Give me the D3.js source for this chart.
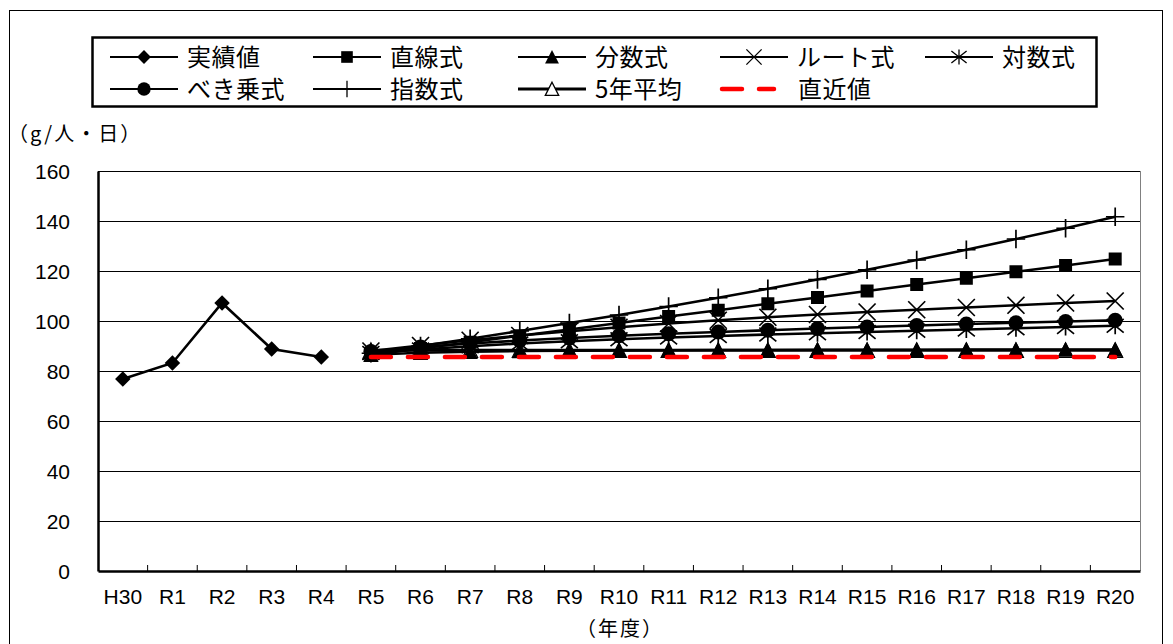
<!DOCTYPE html>
<html>
<head>
<meta charset="utf-8">
<script src="https://cdn.jsdelivr.net/npm/d3@7"></script>
<style>
  html, body { margin: 0; padding: 0; background: #fff; }
  svg { display: block; }
  text { font-family: "Liberation Sans", Arial, sans-serif; fill: #000; }
  .jp { font-family: "Noto Sans CJK JP", "Noto Sans", sans-serif; }
</style>
</head>
<body>
<svg id="chart" width="1173" height="644"></svg>
<script>
// Fiscal years on the category axis
const categories = ["H30","R1","R2","R3","R4","R5","R6","R7","R8","R9","R10",
                    "R11","R12","R13","R14","R15","R16","R17","R18","R19","R20"];
const actualYears   = ["H30","R1","R2","R3","R4"];
const forecastYears = ["R5","R6","R7","R8","R9","R10","R11","R12","R13","R14",
                       "R15","R16","R17","R18","R19","R20"];

// Recorded values (g/person/day)
const actualValues = [76.8, 83.2, 107.2, 88.8, 85.6];

// Projections by trend model
const linearValues   = [86.4, 89.0, 91.5, 94.1, 96.6, 99.2, 101.8, 104.3, 106.9, 109.4, 112.0, 114.6, 117.1, 119.7, 122.2, 124.8];
const fractionValues = [86.5, 87.3, 87.7, 88.0, 88.1, 88.2, 88.3, 88.4, 88.4, 88.5, 88.5, 88.5, 88.6, 88.6, 88.6, 88.6];
const rootValues     = [88.0, 90.2, 92.3, 94.2, 95.9, 97.5, 99.0, 100.3, 101.5, 102.6, 103.6, 104.5, 105.4, 106.3, 107.2, 108.0];
const logValues      = [87.2, 88.6, 89.9, 91.0, 91.9, 92.7, 93.4, 94.0, 94.6, 95.1, 95.6, 96.1, 96.6, 97.1, 97.6, 98.1];
const powerValues    = [87.8, 89.6, 91.0, 92.2, 93.2, 94.1, 94.9, 95.6, 96.3, 97.0, 97.6, 98.2, 98.8, 99.3, 99.8, 100.3];
const expValues      = [87.1, 90.0, 92.9, 96.0, 99.2, 102.4, 105.8, 109.3, 112.9, 116.6, 120.5, 124.4, 128.5, 132.8, 137.1, 141.7];
const avg5Values     = [88.3, 88.3, 88.3, 88.3, 88.3, 88.3, 88.3, 88.3, 88.3, 88.3, 88.3, 88.3, 88.3, 88.3, 88.3, 88.3];
const recentValues   = [85.6, 85.6, 85.6, 85.6, 85.6, 85.6, 85.6, 85.6, 85.6, 85.6, 85.6, 85.6, 85.6, 85.6, 85.6, 85.6];

const yTicks = [0, 20, 40, 60, 80, 100, 120, 140, 160];
const unitLabel = "（g/人・日）";
const xTitle = "（年度）";

// ---- marker shapes (size = full span in px squared) ----
const half = s => Math.sqrt(s) / 2;
const symDiamond = { draw(c, s) { const r = half(s); c.moveTo(0,-r); c.lineTo(r,0); c.lineTo(0,r); c.lineTo(-r,0); c.closePath(); } };
const symSquare  = { draw(c, s) { const r = half(s); c.rect(-r,-r,2*r,2*r); } };
const symTri     = { draw(c, s) { const r = half(s); c.moveTo(0,-r); c.lineTo(r,r*0.95); c.lineTo(-r,r*0.95); c.closePath(); } };
const symCircle  = { draw(c, s) { const r = half(s); c.moveTo(r,0); c.arc(0,0,r,0,2*Math.PI); } };
const symPlus    = { draw(c, s) { const r = half(s); c.moveTo(-r,0); c.lineTo(r,0); c.moveTo(0,-r); c.lineTo(0,r); } };
const symX       = { draw(c, s) { const r = half(s); c.moveTo(-r,-r); c.lineTo(r,r); c.moveTo(r,-r); c.lineTo(-r,r); } };
const symStar    = { draw(c, s) { const r = half(s); c.moveTo(-r,-r*0.8); c.lineTo(r,r*0.8); c.moveTo(r,-r*0.8); c.lineTo(-r,r*0.8); c.moveTo(0,-r); c.lineTo(0,r); } };

// Series in draw order (later on top)
const series = [
  { name: "実績値",  years: actualYears,   values: actualValues,   sym: symDiamond, size: 240, fill: "#000", stroke: "none", width: 2.6 },
  { name: "5年平均", years: forecastYears, values: avg5Values,     sym: symTri,     size: 225, fill: "#fff", stroke: "#000", width: 3.2 },
  { name: "直線式",  years: forecastYears, values: linearValues,   sym: symSquare,  size: 169, fill: "#000", stroke: "none", width: 2.6 },
  { name: "分数式",  years: forecastYears, values: fractionValues, sym: symTri,     size: 240, fill: "#000", stroke: "none", width: 2.6 },
  { name: "ルート式", years: forecastYears, values: rootValues,     sym: symX,       size: 289, fill: "none", stroke: "#000", width: 2.6 },
  { name: "対数式",  years: forecastYears, values: logValues,      sym: symStar,    size: 289, fill: "none", stroke: "#000", width: 2.6 },
  { name: "べき乗式", years: forecastYears, values: powerValues,    sym: symCircle,  size: 225, fill: "#000", stroke: "none", width: 2.6 },
  { name: "指数式",  years: forecastYears, values: expValues,      sym: symPlus,    size: 340, fill: "none", stroke: "#000", width: 2.6 },
  { name: "直近値",  years: forecastYears, values: recentValues,   sym: null,       size: 0,   fill: "none", stroke: "#ff0000", width: 4.5, dash: "20,17" }
];

// Legend layout, row by row
const legendRows = [
  ["実績値", "直線式", "分数式", "ルート式", "対数式"],
  ["べき乗式", "指数式", "5年平均", "直近値"]
];

const svg = d3.select("#chart");

// outer frame
svg.append("rect").attr("x", 9.5).attr("y", 10.5).attr("width", 1153).attr("height", 700)
  .attr("fill", "#fff").attr("stroke", "#000").attr("stroke-width", 1);

const plot = { left: 98, right: 1140, top: 171, bottom: 571 };

const x = d3.scaleBand().domain(categories).range([plot.left, plot.right]).padding(0);
const y = d3.scaleLinear().domain([0, 160]).range([plot.bottom, plot.top]);

// gridlines
svg.append("g").selectAll("line").data(yTicks.filter(t => t > 0)).join("line")
  .attr("x1", plot.left).attr("x2", plot.right)
  .attr("y1", d => y(d) + 0.5).attr("y2", d => y(d) + 0.5)
  .attr("stroke", "#000").attr("stroke-width", 1);

// plot frame right side
svg.append("line").attr("x1", plot.right + 0.5).attr("x2", plot.right + 0.5)
  .attr("y1", plot.top).attr("y2", plot.bottom).attr("stroke", "#808080").attr("stroke-width", 1);

// y axis
const yAxis = d3.axisLeft(y).tickValues(yTicks).tickSize(0).tickPadding(28);
const gy = svg.append("g").attr("transform", `translate(${plot.left},0)`).call(yAxis);
gy.select(".domain").attr("stroke", "#000").attr("stroke-width", 2.5);
gy.selectAll("text").attr("font-size", 21).attr("font-family", "Liberation Sans, Arial, sans-serif").attr("dy", "0.35em");

// x axis with inward ticks at category boundaries
const xAxis = d3.axisBottom(x).tickSize(0).tickPadding(18);
const gx = svg.append("g").attr("transform", `translate(0,${plot.bottom})`).call(xAxis);
gx.select(".domain").attr("stroke", "#000").attr("stroke-width", 2.5);
gx.selectAll("text").attr("font-size", 21).attr("font-family", "Liberation Sans, Arial, sans-serif");
svg.append("g").selectAll("line").data(categories.slice(1)).join("line")
  .attr("x1", d => x(d)).attr("x2", d => x(d))
  .attr("y1", plot.bottom - 6).attr("y2", plot.bottom)
  .attr("stroke", "#000").attr("stroke-width", 1);

// axis captions
svg.append("text").attr("class", "jp").attr("x", 8).attr("y", 141)
  .attr("font-size", 20).attr("letter-spacing", 2).text(unitLabel);
svg.append("text").attr("class", "jp").attr("x", 620).attr("y", 636)
  .attr("text-anchor", "middle").attr("font-size", 20).attr("letter-spacing", 2).text(xTitle);

// series lines and markers
const line = d3.line().x(d => x(d.year) + x.bandwidth() / 2).y(d => y(d.value));
series.forEach(s => {
  const pts = s.years.map((yr, i) => ({ year: yr, value: s.values[i] }));
  const g = svg.append("g");
  g.append("path").datum(pts).attr("d", line)
    .attr("fill", "none").attr("stroke", s.stroke === "none" ? "#000" : s.stroke)
    .attr("stroke-width", s.width).attr("stroke-dasharray", s.dash || null)
    .attr("stroke-linecap", s.dash ? "round" : "butt");
  if (s.sym) {
    const sym = d3.symbol().type(s.sym).size(s.size);
    g.selectAll("path.m").data(pts).join("path").attr("class", "m")
      .attr("transform", d => `translate(${x(d.year) + x.bandwidth() / 2},${y(d.value)})`)
      .attr("d", sym)
      .attr("fill", s.fill).attr("stroke", s.stroke === "none" ? null : s.stroke)
      .attr("stroke-width", s.fill === "#fff" ? 1.2 : 1.7);
  }
});

// legend
const lg = svg.append("g");
lg.append("rect").attr("x", 92.5).attr("y", 37.5).attr("width", 1004).attr("height", 69)
  .attr("fill", "#fff").attr("stroke", "#000").attr("stroke-width", 2.5);
const colX = [110, 313, 518, 720, 925];
const rowY = [57, 89];
legendRows.forEach((row, ri) => {
  row.forEach((name, ci) => {
    const s = series.find(d => d.name === name);
    const gx0 = colX[ci], gy0 = rowY[ri];
    const item = lg.append("g").attr("transform", `translate(${gx0},${gy0})`);
    if (s.dash) {
      item.append("line").attr("x1", 2).attr("x2", 54).attr("y1", 0).attr("y2", 0)
        .attr("stroke", s.stroke).attr("stroke-width", s.width).attr("stroke-dasharray", s.dash)
        .attr("stroke-linecap", "round");
    } else {
      item.append("line").attr("x1", 0).attr("x2", 68).attr("y1", 0).attr("y2", 0)
        .attr("stroke", "#000").attr("stroke-width", s.width === 3.2 ? 3 : 2);
      item.append("path").attr("transform", "translate(34,0)")
        .attr("d", d3.symbol().type(s.sym).size(s.size * 0.8))
        .attr("fill", s.fill).attr("stroke", s.stroke === "none" ? null : s.stroke)
        .attr("stroke-width", 1.3);
    }
    item.append("text").attr("class", "jp").attr("x", s.dash ? 78 : 77).attr("y", 0)
      .attr("dy", "0.36em").attr("font-size", 24).attr("letter-spacing", 0.5).text(name);
  });
});
</script>
</body>
</html>
